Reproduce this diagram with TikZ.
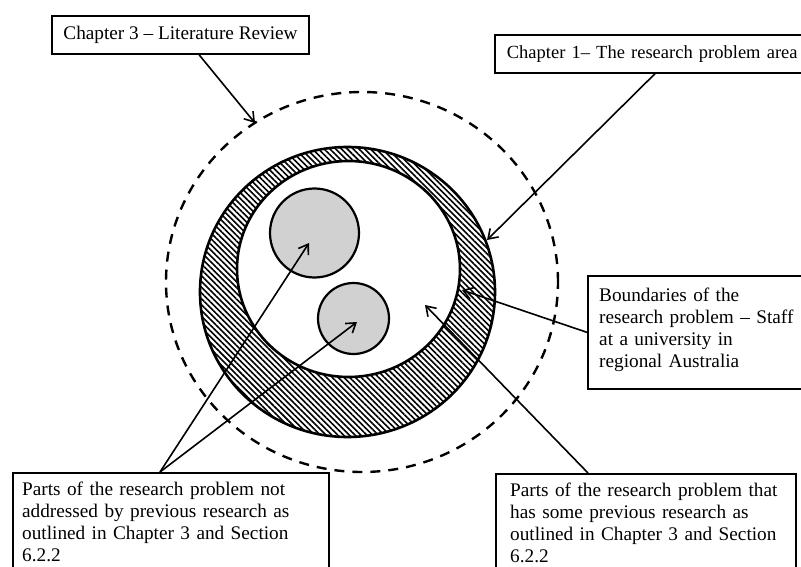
\documentclass[tikz,border=0pt]{standalone}
\usepackage{fontspec}
\setmainfont{Liberation Serif}
\usetikzlibrary{arrows.meta,patterns.meta,shapes.geometric,calc}

\begin{document}
\begin{tikzpicture}[x=1pt,y=-1pt,
  every node/.style={font=\fontsize{19.25}{22}\selectfont},
  box/.style={draw, line width=1.7pt, rectangle, inner sep=0pt},
  boxtext/.style={anchor=north west, inner sep=0pt, align=left},
  conn/.style={line width=1.6pt, -{Straight Barb[length=9pt,width=12pt,line width=1.6pt]}},
  ringline/.style={draw, ellipse, line width=2.6pt, inner sep=0pt},
  disc/.style={circle, draw, line width=2.2pt, fill=black!18, inner sep=0pt}]
\useasboundingbox (0,0) rectangle (801,567);
\clip (0,0) rectangle (801,567);

% literature boundary (dashed)
\node[ellipse, draw, line width=2.4pt, dash pattern=on 10pt off 8pt,
      minimum width=392pt, minimum height=380pt, inner sep=0pt] (lit) at (362,282) {};

% hatched band of the research problem area
\node[ringline, minimum width=295pt, minimum height=290pt,
      pattern={Lines[angle=-45,distance=4.1pt,line width=1.6pt]}] (outer) at (347.5,292) {};
\node[ringline, minimum width=223pt, minimum height=216pt, fill=white] (inner) at (348.5,269) {};

% parts already covered by earlier research
\node[disc, minimum size=89pt] (discA) at (314.5,233) {};
\node[disc, minimum size=71pt] (discB) at (353.5,318.5) {};

% label boxes
\node[box, minimum width=257pt, minimum height=38pt] (ch3) at (180.5,35) {Chapter 3 – Literature Review};
\node[box, anchor=north west, minimum height=38pt, text width=340pt, inner xsep=12pt, align=left,
      font=\fontsize{18.5}{22}\selectfont]
      (ch1) at (494,34) {Chapter 1– The research problem area};

\node[box, anchor=north west, minimum width=240pt, minimum height=113pt] (bbox) at (587,275) {};
\node[boxtext, text width=200pt] (btext) at (599,288)
      {Boundaries of the\\research problem – Staff\\at a university in\\regional Australia};

\node[box, anchor=north west, minimum width=316pt, minimum height=120pt] (lbox) at (12,472) {};
\node[boxtext, text width=300pt] (ltext) at (22,482)
      {Parts of the research problem not\\addressed by previous research as\\outlined in Chapter 3 and Section\\6.2.2};

\node[box, anchor=north west, minimum width=300pt, minimum height=120pt] (rbox) at (495,473) {};
\node[boxtext, text width=285pt] (rtext) at (510,483)
      {Parts of the research problem that\\has some previous research as\\outlined in Chapter 3 and Section\\6.2.2};

% arrow end points
\coordinate (tA) at (309,243);
\coordinate (tB) at (357,322);
\coordinate (tW) at (425,305);
\coordinate (tR) at (462,290);
\coordinate (tO) at (487,240);
\coordinate (tL) at (255,123);

% connectors
\draw[conn] ($(ch3.south west)+(148,0)$) -- (tL);
\draw[conn] ($(ch1.south west)+(161,0)$) -- (tO);
\draw[conn] (bbox.west) -- (tR);
\draw[conn] ($(rbox.north west)+(93,0)$) -- (tW);
\draw[conn] ($(lbox.north west)+(148,0)$) -- (tA);
\draw[conn] ($(lbox.north west)+(148,0)$) -- (tB);
\end{tikzpicture}
\end{document}
